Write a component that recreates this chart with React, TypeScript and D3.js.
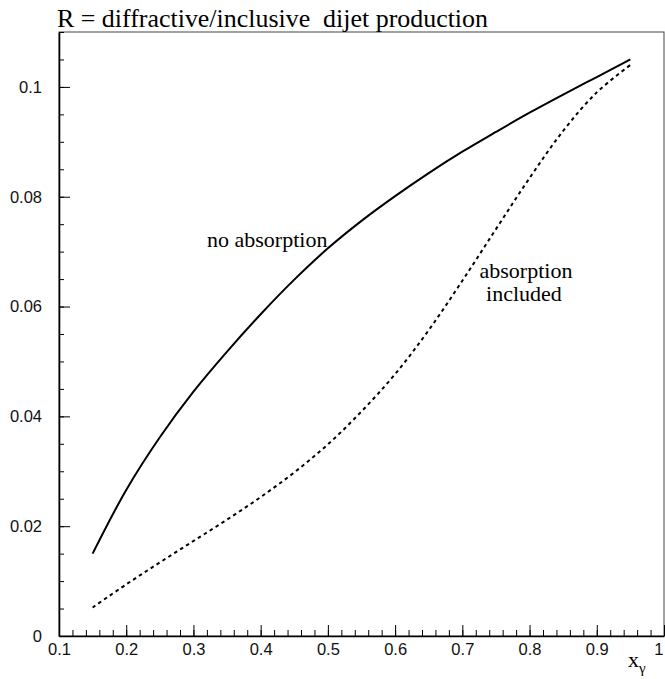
import React, { useEffect, useRef } from 'react';
import * as d3 from 'd3';

const xGamma = [0.15, 0.2, 0.25, 0.3, 0.35, 0.4, 0.45, 0.5, 0.55, 0.6, 0.65, 0.7, 0.75, 0.8, 0.85, 0.9, 0.95];
// R without absorption (solid)
const noAbsorption = [0.015, 0.0266, 0.0362, 0.0445, 0.0518, 0.0586, 0.0649, 0.0706, 0.0756, 0.0801, 0.0843, 0.0882, 0.0918, 0.0953, 0.0986, 0.1018, 0.105];
// R with absorption included (dotted)
const withAbsorption = [0.0052, 0.0094, 0.0134, 0.0173, 0.0212, 0.0253, 0.0298, 0.0349, 0.0409, 0.0477, 0.0557, 0.0647, 0.0741, 0.0834, 0.092, 0.099, 0.104];

const xTickValues = [0.1, 0.2, 0.3, 0.4, 0.5, 0.6, 0.7, 0.8, 0.9, 1.0];
const xTickLabels = ['0.1', '0.2', '0.3', '0.4', '0.5', '0.6', '0.7', '0.8', '0.9', '1'];
const yTickValues = [0, 0.02, 0.04, 0.06, 0.08, 0.1];
const yTickLabels = ['0', '0.02', '0.04', '0.06', '0.08', '0.1'];

const W = 665;
const H = 679;
const margin = { top: 32, right: 1, bottom: 43, left: 59 };

export default function App() {
  const ref = useRef<SVGSVGElement | null>(null);

  useEffect(() => {
    const svg = d3.select(ref.current);
    svg.selectAll('*').remove();

    const x = d3.scaleLinear().domain([0.1, 1.0]).range([margin.left, W - margin.right]);
    const y = d3.scaleLinear().domain([0, 0.11]).range([H - margin.bottom, margin.top]);
    const x0 = margin.left;
    const y0 = H - margin.bottom;

    // frame (top/right lighter)
    svg.append('rect')
      .attr('x', x0).attr('y', margin.top)
      .attr('width', W - margin.right - x0).attr('height', y0 - margin.top)
      .attr('fill', 'none').attr('stroke', '#444').attr('stroke-width', 1);

    const sans = 'Liberation Sans, Helvetica, Arial, sans-serif';

    // y axis: major + minor ticks pointing inward
    const yMinor = d3.range(0, 0.1101, 0.005);
    svg.append('g')
      .attr('transform', `translate(${x0},0)`)
      .call(d3.axisLeft(y).tickValues(yMinor).tickSizeInner(-5).tickSizeOuter(0).tickFormat(() => ''))
      .call(g => g.select('.domain').remove());
    const yAxis = svg.append('g')
      .attr('transform', `translate(${x0},0)`)
      .call(d3.axisLeft(y).tickValues(yTickValues).tickSizeInner(-11).tickSizeOuter(0).tickPadding(17)
        .tickFormat((d, i) => yTickLabels[i]));
    yAxis.select('.domain').attr('stroke-width', 1.6);
    yAxis.selectAll('text').attr('font-family', sans).attr('font-size', 16.5).attr('fill', '#111');

    // x axis
    const xMinor = d3.range(0.1, 1.0001, 0.02);
    svg.append('g')
      .attr('transform', `translate(0,${y0})`)
      .call(d3.axisBottom(x).tickValues(xMinor).tickSizeInner(-6).tickSizeOuter(0).tickFormat(() => ''))
      .call(g => g.select('.domain').remove());
    const xAxis = svg.append('g')
      .attr('transform', `translate(0,${y0})`)
      .call(d3.axisBottom(x).tickValues(xTickValues).tickSizeInner(-11).tickSizeOuter(0).tickPadding(7)
        .tickFormat((d, i) => xTickLabels[i]));
    xAxis.select('.domain').attr('stroke-width', 1.6);
    xAxis.selectAll('text').attr('font-family', sans).attr('font-size', 16.5).attr('fill', '#111');
    // keep the last label inside the page
    xAxis.selectAll<SVGTextElement, number>('text')
      .filter((d) => d === 1.0)
      .attr('text-anchor', 'end').attr('dx', -1);

    const line = d3.line<number>()
      .x((d, i) => x(xGamma[i]))
      .y(d => y(d))
      .curve(d3.curveCatmullRom.alpha(0.5));

    svg.append('path')
      .datum(noAbsorption)
      .attr('fill', 'none').attr('stroke', '#000').attr('stroke-width', 2)
      .attr('d', line);

    svg.append('path')
      .datum(withAbsorption)
      .attr('fill', 'none').attr('stroke', '#000').attr('stroke-width', 2)
      .attr('stroke-dasharray', '3.5,3.5')
      .attr('d', line);

    const serif = 'Liberation Serif, Times New Roman, serif';

    svg.append('text')
      .attr('x', 57).attr('y', 27)
      .attr('font-family', serif).attr('font-size', 26)
      .attr('textLength', 431).attr('lengthAdjust', 'spacingAndGlyphs')
      .style('white-space', 'pre')
      .text('R = diffractive/inclusive  dijet production');

    svg.append('text')
      .attr('x', 207).attr('y', 247)
      .attr('font-family', serif).attr('font-size', 22)
      .text('no absorption');

    const lab = svg.append('text')
      .attr('font-family', serif).attr('font-size', 22)
      .attr('text-anchor', 'middle');
    lab.append('tspan').attr('x', 526).attr('y', 278).text('absorption');
    lab.append('tspan').attr('x', 524).attr('y', 301).text('included');

    const xl = svg.append('text')
      .attr('x', 628).attr('y', 667)
      .attr('font-family', serif).attr('font-size', 22);
    xl.append('tspan').text('x');
    xl.append('tspan').attr('font-size', 15).attr('dy', 6).text('γ');
  }, []);

  return (
    <svg ref={ref} width={W} height={H}
      style={{ position: 'absolute', left: 0, top: 0, background: '#fff' }} />
  );
}
